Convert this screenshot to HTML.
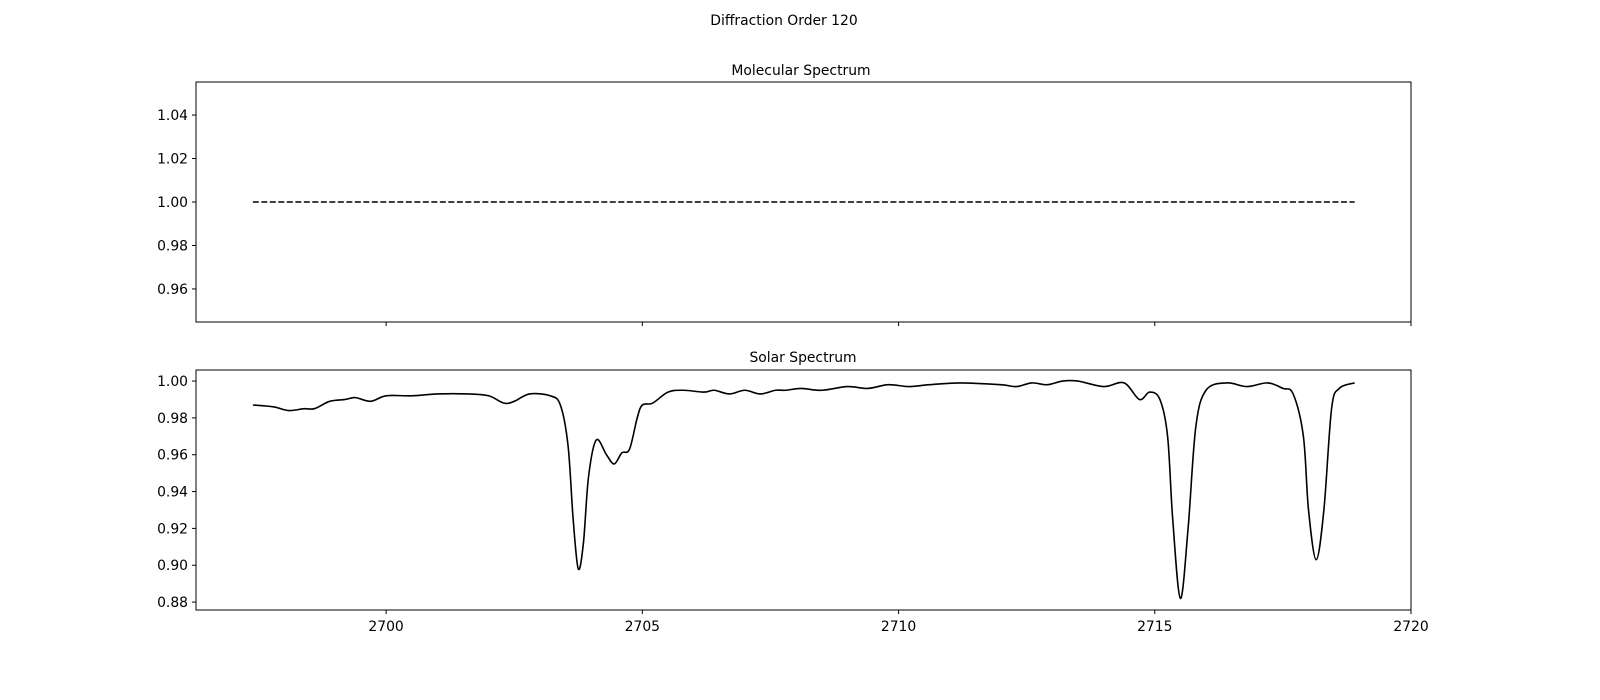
<!DOCTYPE html>
<html><head><meta charset="utf-8"><style>
html,body{margin:0;padding:0;background:#fff;overflow:hidden;width:1600px;height:700px}
svg{display:block}
svg text{font-family:"DejaVu Sans","Liberation Sans",sans-serif;font-size:13.9px;fill:#000}
</style></head><body>
<svg id="fig" width="1600" height="700" xmlns="http://www.w3.org/2000/svg">
<rect width="1600" height="700" fill="#fff"/>
<text x="784" y="25" text-anchor="middle">Diffraction Order 120</text>
<text x="801" y="75" text-anchor="middle">Molecular Spectrum</text>
<text x="803" y="362" text-anchor="middle">Solar Spectrum</text>
<g id="topPanel"></g>
<g id="botPanel"></g>
</svg>
<script>
const xTicks=[2700,2705,2710,2715,2720];
const topYTicks=[0.96,0.98,1.00,1.02,1.04];
const botYTicks=[0.88,0.90,0.92,0.94,0.96,0.98,1.00];
const molWl=[2697.4,2718.9];
const molVal=[1.0,1.0];
const solWl=[2697.4,2697.8,2698.1,2698.4,2698.6,2698.9,2699.2,2699.4,2699.7,2700.0,2700.5,2701.0,2701.6,2702.0,2702.3,2702.5,2702.8,2703.2,2703.4,2703.55,2703.65,2703.75,2703.85,2703.95,2704.1,2704.3,2704.45,2704.6,2704.75,2704.9,2705.0,2705.2,2705.5,2705.8,2706.2,2706.4,2706.7,2707.0,2707.3,2707.6,2707.8,2708.1,2708.5,2709.0,2709.4,2709.8,2710.2,2710.6,2711.2,2712.0,2712.3,2712.6,2712.9,2713.2,2713.5,2714.0,2714.4,2714.7,2714.9,2715.1,2715.25,2715.35,2715.5,2715.65,2715.8,2716.0,2716.4,2716.8,2717.2,2717.5,2717.7,2717.9,2718.0,2718.15,2718.3,2718.45,2718.6,2718.9];
const solVal=[0.987,0.986,0.984,0.985,0.985,0.989,0.990,0.991,0.989,0.992,0.992,0.993,0.993,0.992,0.988,0.989,0.993,0.992,0.987,0.965,0.925,0.898,0.912,0.948,0.968,0.960,0.955,0.961,0.963,0.980,0.987,0.988,0.994,0.995,0.994,0.995,0.993,0.995,0.993,0.995,0.995,0.996,0.995,0.997,0.996,0.998,0.997,0.998,0.999,0.998,0.997,0.999,0.998,1.000,1.000,0.997,0.999,0.990,0.994,0.990,0.970,0.925,0.882,0.920,0.975,0.995,0.999,0.997,0.999,0.996,0.993,0.970,0.930,0.903,0.930,0.985,0.996,0.999];
const NS='http://www.w3.org/2000/svg';
const X0=196,X1=1411,xmin=2696.29,xmax=2720;
const sx=v=>X0+(v-xmin)/(xmax-xmin)*(X1-X0);
function mk(t,a,p){const e=document.createElementNS(NS,t);for(const k in a)e.setAttribute(k,a[k]);p.appendChild(e);return e;}
function panel(g,y0,y1,ymin,ymax,yt,dec,showX){
  const sy=v=>y1-(v-ymin)/(ymax-ymin)*(y1-y0);
  const fr=mk('rect',{x:X0,y:y0,width:X1-X0,height:y1-y0,fill:'none',stroke:'#000','stroke-width':1},g);
  
  
  yt.forEach(v=>{
    const l=mk('line',{x1:X0-4,x2:X0,y1:sy(v),y2:sy(v),stroke:'#000'},g);
    
    
    const t=mk('text',{x:X0-8,y:sy(v)+5,'text-anchor':'end'},g);
    t.textContent=v.toFixed(dec);
    
    
  });
  xTicks.forEach(v=>{
    const l=mk('line',{x1:sx(v),x2:sx(v),y1:y1,y2:y1+4,stroke:'#000'},g);
    
    
    if(showX){
      const t=mk('text',{x:sx(v),y:y1+21,'text-anchor':'middle'},g);
      t.textContent=v;
      
      
    }
  });
  return sy;
}
function smooth(xs,ys,sx,sy){
  const P=xs.map((x,i)=>[sx(x),sy(ys[i])]);
  let d='M'+P[0][0]+','+P[0][1];
  for(let i=0;i<P.length-1;i++){
    const p0=P[Math.max(0,i-1)],p1=P[i],p2=P[i+1],p3=P[Math.min(P.length-1,i+2)];
    const c1=[p1[0]+(p2[0]-p0[0])/6,p1[1]+(p2[1]-p0[1])/6];
    const c2=[p2[0]-(p3[0]-p1[0])/6,p2[1]-(p3[1]-p1[1])/6];
    d+=` C${c1[0]},${c1[1]} ${c2[0]},${c2[1]} ${p2[0]},${p2[1]}`;
  }
  return d;
}
const gTop=document.getElementById('topPanel'),gBot=document.getElementById('botPanel');
const syT=panel(gTop,82,322,0.9448,1.0552,topYTicks,2,false);
const ml=mk('path',{d:smooth(molWl,molVal,sx,syT),fill:'none',stroke:'#000','stroke-width':1.6,'stroke-dasharray':'6,2.5'},gTop);


const syB=panel(gBot,370,610,0.8757,1.006,botYTicks,2,true);
const sl=mk('path',{d:smooth(solWl,solVal,sx,syB),fill:'none',stroke:'#000','stroke-width':1.6},gBot);


</script>
</body></html>
